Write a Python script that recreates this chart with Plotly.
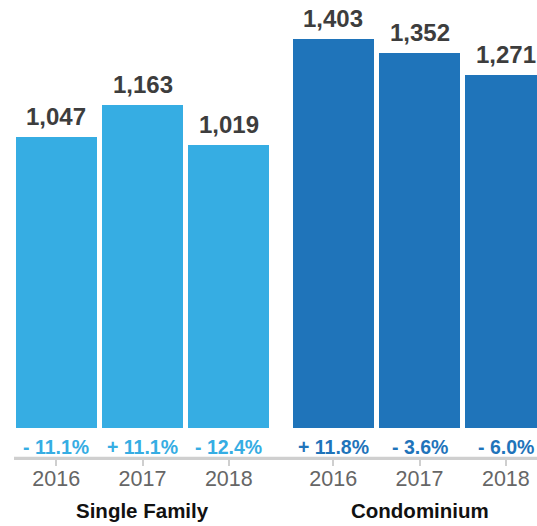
import plotly.graph_objects as go

# ---- data ----
groups = ["Single Family", "Condominium"]
years = ["2016", "2017", "2018"]
single_family = [1047, 1163, 1019]
condominium = [1403, 1352, 1271]
sf_change = [-11.1, 11.1, -12.4]
condo_change = [11.8, -3.6, -6.0]

series = [single_family, condominium]
changes = [sf_change, condo_change]
colors = ["#36ADE3", "#1F74BA"]

FONT = "Helvetica Neue, Liberation Sans, Arial, sans-serif"
GROUP_STEP = 3.21  # group offset in bar slots
BAR_W = 0.938
AXIS_COLOR = "#cfcfcf"

fig = go.Figure()
tickvals, ticktext = [], []
annotations = []

for g, (name, vals, chg, col) in enumerate(zip(groups, series, changes, colors)):
    xs = [g * GROUP_STEP + i for i in range(len(years))]
    fig.add_trace(go.Bar(
        x=xs, y=vals, width=BAR_W, marker=dict(color=col, line=dict(width=0)),
        showlegend=False, hoverinfo="skip",
    ))
    tickvals += xs
    ticktext += years
    for x, v, c in zip(xs, vals, chg):
        annotations.append(dict(
            x=x, y=v, xref="x", yref="y", text=f"{v:,}", showarrow=False,
            yanchor="bottom", yshift=5,
            font=dict(family=FONT, size=24, color="#3d3d3d", weight="bold"),
        ))
        sign = "+" if c > 0 else "-"
        annotations.append(dict(
            x=x, y=0, xref="x", yref="paper", text=f"{sign} {abs(c):.1f}%",
            showarrow=False, yanchor="middle", yshift=11,
            font=dict(family=FONT, size=19.5, color=col, weight="bold"),
        ))
    annotations.append(dict(
        x=xs[1], y=0, xref="x", yref="paper", text=name, showarrow=False,
        yanchor="middle", yshift=-52,
        font=dict(family=FONT, size=20.5, color="#111111", weight="bold"),
    ))

fig.add_shape(
    type="line", xref="paper", yref="paper", x0=0, x1=1, y0=0, y1=0,
    line=dict(color=AXIS_COLOR, width=2.5), layer="above",
)

fig.update_layout(
    width=537, height=526,
    margin=dict(l=14, r=0, t=0, b=68),
    paper_bgcolor="white", plot_bgcolor="white",
    bargap=0,
    annotations=annotations,
    xaxis=dict(
        range=[-0.489, 5.571], anchor="free", position=0,
        tickvals=tickvals, ticktext=ticktext,
        showgrid=False, zeroline=False,
        showline=True, linecolor=AXIS_COLOR, linewidth=2.5,
        ticks="outside", ticklen=6, tickwidth=2, tickcolor=AXIS_COLOR,
        tickfont=dict(family=FONT, size=21.5, color="#666666"),
        ticklabelstandoff=-6,
    ),
    yaxis=dict(
        domain=[30 / 458, 1], range=[0, 1542],
        visible=False, showgrid=False, zeroline=False,
    ),
)

fig.write_html(
    "out.html",
    config={"displayModeBar": False},
    post_script="document.body.style.margin='0';document.body.style.overflow='hidden';",
)
